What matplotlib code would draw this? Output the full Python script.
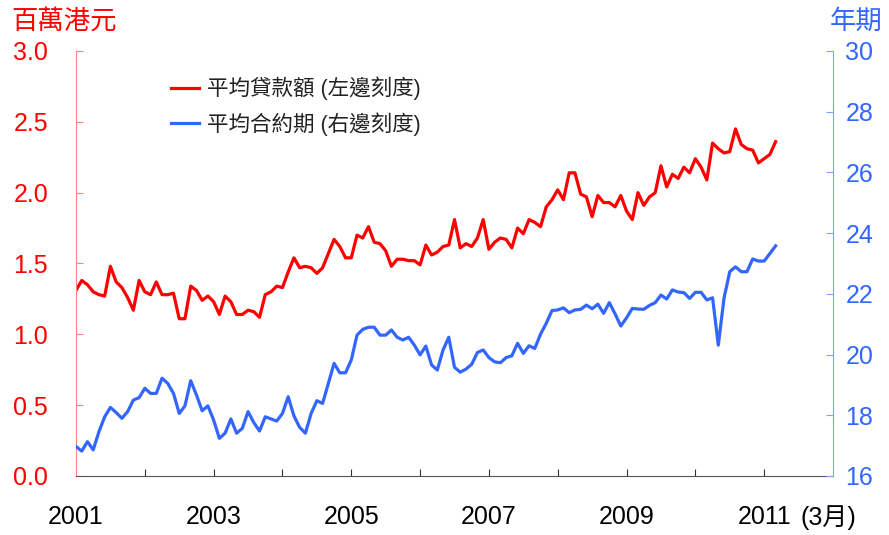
import numpy as np
import matplotlib
matplotlib.use("Agg")
import matplotlib.pyplot as plt

plt.rcParams['font.family'] = ['Liberation Sans', 'Noto Sans CJK TC']

# Datos mensuales: enero 2001 a marzo 2011
start_year = 2001
loan_amount = [  # 百萬港元 (eje izquierdo)
    1.31, 1.38, 1.35, 1.30, 1.28, 1.27, 1.48, 1.37, 1.33, 1.26, 1.17, 1.38,
    1.30, 1.28, 1.37, 1.28, 1.28, 1.29, 1.11, 1.11, 1.34, 1.31, 1.24, 1.27,
    1.23, 1.14, 1.27, 1.23, 1.14, 1.14, 1.17, 1.16, 1.12, 1.28, 1.30, 1.34,
    1.33, 1.44, 1.54, 1.47, 1.48, 1.47, 1.43, 1.47, 1.57, 1.67, 1.62, 1.54,
    1.54, 1.70, 1.68, 1.76, 1.65, 1.64, 1.59, 1.48, 1.53, 1.53, 1.52, 1.52,
    1.49, 1.63, 1.56, 1.58, 1.62, 1.63, 1.81, 1.61, 1.64, 1.62, 1.68, 1.81,
    1.60, 1.65, 1.68, 1.67, 1.61, 1.75, 1.71, 1.81, 1.79, 1.76, 1.90, 1.95,
    2.02, 1.95, 2.14, 2.14, 1.99, 1.97, 1.83, 1.98, 1.93, 1.93, 1.90, 1.98,
    1.87, 1.81, 2.00, 1.91, 1.97, 2.00, 2.19, 2.04, 2.13, 2.10, 2.18, 2.14,
    2.24, 2.18, 2.09, 2.35, 2.31, 2.28, 2.29, 2.45, 2.34, 2.31, 2.30, 2.21,
    2.24, 2.27, 2.36,
]
loan_term = [  # 年期 (eje derecho)
    16.97, 16.82, 17.13, 16.86, 17.46, 17.95, 18.26, 18.09, 17.90, 18.12, 18.50, 18.58,
    18.89, 18.72, 18.72, 19.22, 19.05, 18.72, 18.06, 18.31, 19.14, 18.67, 18.15, 18.31,
    17.84, 17.24, 17.41, 17.88, 17.41, 17.57, 18.12, 17.76, 17.48, 17.95, 17.88, 17.81,
    18.06, 18.61, 17.98, 17.60, 17.41, 18.06, 18.48, 18.39, 19.05, 19.71, 19.40, 19.40,
    19.82, 20.64, 20.83, 20.90, 20.90, 20.64, 20.64, 20.81, 20.57, 20.48, 20.57, 20.31,
    19.99, 20.28, 19.66, 19.49, 20.15, 20.57, 19.58, 19.42, 19.52, 19.68, 20.07, 20.15,
    19.90, 19.76, 19.73, 19.90, 19.96, 20.37, 20.04, 20.29, 20.20, 20.67, 21.03, 21.45,
    21.47, 21.54, 21.38, 21.47, 21.49, 21.63, 21.51, 21.66, 21.36, 21.71, 21.34, 20.94,
    21.21, 21.52, 21.50, 21.49, 21.62, 21.71, 21.96, 21.83, 22.13, 22.06, 22.04, 21.85,
    22.05, 22.05, 21.80, 21.87, 20.31, 21.86, 22.73, 22.89, 22.73, 22.73, 23.15, 23.08,
    23.08, 23.33, 23.58,
]
labels = ['平均貸款額 (左邊刻度)', '平均合約期 (右邊刻度)']
year_ticks = list(range(2002, 2012))
year_labels = ['2001', '2003', '2005', '2007', '2009', '2011']

x = start_year + np.arange(len(loan_amount)) / 12.0

RED = '#ff0000'
BLUE = '#3366ff'

fig = plt.figure(figsize=(8.89, 5.35), dpi=100)
ax = fig.add_axes([0.0855, 0.1103, 0.8515, 0.7944])
ax2 = ax.twinx()

l1, = ax.plot(x, loan_amount, color=RED, lw=2.3)
l2, = ax2.plot(x, loan_term, color=BLUE, lw=2.3)

ax.set_xlim(2001, 2012)
ax.set_ylim(0, 3.0)
ax2.set_ylim(16, 30)
ax.set_yticks(np.arange(0, 3.01, 0.5))
ax.set_yticklabels([f'{v:.1f}' for v in np.arange(0, 3.01, 0.5)])
ax2.set_yticks(range(16, 31, 2))

ax.set_xticks(year_ticks)
ax.set_xticklabels([''] * len(year_ticks))
for yr in year_labels:
    ax.annotate(yr, xy=(int(yr), 0), xycoords=('data', 'axes fraction'),
                xytext=(0, -21), textcoords='offset points',
                ha='center', va='top', fontsize=18)
ax.annotate('(3月)', xy=(2011, 0), xycoords=('data', 'axes fraction'),
            xytext=(26, -21), textcoords='offset points',
            ha='left', va='top', fontsize=18)

# Ejes y colores
for a in (ax, ax2):
    a.spines['top'].set_visible(False)
ax.spines['left'].set_color('#ff8080')
ax.spines['right'].set_visible(False)
ax2.spines['left'].set_visible(False)
ax2.spines['right'].set_color('#80a0ff')
ax.spines['bottom'].set_color('#555555')
ax2.spines['bottom'].set_visible(False)

ax.tick_params(axis='y', direction='in', length=5, color='#ff8080',
               labelcolor=RED, labelsize=18, pad=20)
ax2.tick_params(axis='y', direction='in', length=5, color='#80a0ff',
                labelcolor=BLUE, labelsize=18, pad=9)
ax.tick_params(axis='x', direction='in', length=5, color='#333333')

fig.text(0.013, 0.960, '百萬港元', color=RED, fontsize=19,
         family=['Noto Sans CJK TC'], ha='left', va='center')
fig.text(0.993, 0.960, '年期', color=BLUE, fontsize=19,
         family=['Noto Sans CJK TC'], ha='right', va='center')

leg = ax.legend([l1, l2], labels, loc='upper left', bbox_to_anchor=(0.10, 0.985),
                frameon=False, handlelength=1.3, handletextpad=0.35,
                labelspacing=0.55, prop={'family': ['Liberation Sans', 'Noto Sans CJK TC'], 'size': 15.5})
for t in leg.get_texts():
    t.set_color('#222222')

fig.savefig('out.png', dpi=100)
